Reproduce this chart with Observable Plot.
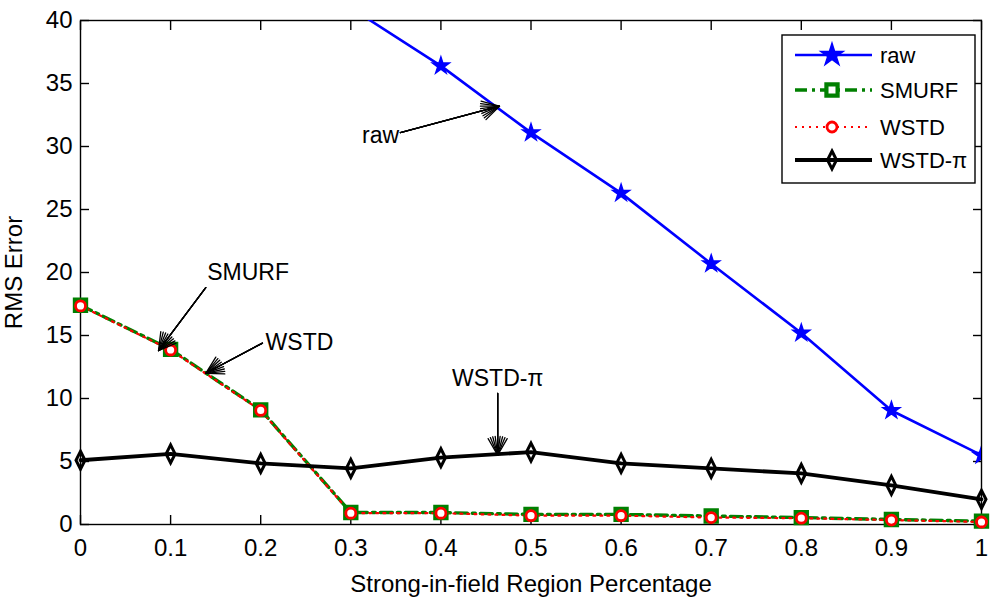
<!DOCTYPE html>
<html>
<head>
<meta charset="utf-8">
<script src="https://cdn.jsdelivr.net/npm/d3@7"></script>
<script src="https://cdn.jsdelivr.net/npm/@observablehq/plot@0.6"></script>
<style>
  body { margin: 0; background: #fff; font-family: "Liberation Sans", Arial, sans-serif; }
  #wrap { position: relative; width: 1000px; height: 603px; }
  #legend { position: absolute; left: 781px; top: 34px; }
</style>
</head>
<body>
<div id="wrap"><div id="chart"></div><div id="legend"></div></div>
<script>
// values
const xs = [0, 0.1, 0.2, 0.3, 0.4, 0.5, 0.6, 0.7, 0.8, 0.9, 1];
const rawX = [0.3, 0.4, 0.5, 0.6, 0.7, 0.8, 0.9, 1];
const rawY = [41.0, 36.4, 31.1, 26.3, 20.7, 15.2, 9.05, 5.5];
const smurfY = [17.4, 13.9, 9.1, 0.95, 0.95, 0.8, 0.8, 0.67, 0.55, 0.4, 0.27];
const wstdY = [17.35, 13.85, 9.05, 0.9, 0.9, 0.7, 0.7, 0.55, 0.5, 0.35, 0.2];
const wstdPiY = [5.1, 5.6, 4.85, 4.45, 5.3, 5.75, 4.85, 4.45, 4.05, 3.1, 2.0];
const xTicks = [0, 0.1, 0.2, 0.3, 0.4, 0.5, 0.6, 0.7, 0.8, 0.9, 1];
const yTicks = [0, 5, 10, 15, 20, 25, 30, 35, 40];
const seriesNames = ["raw", "SMURF", "WSTD", "WSTD-\u03c0"];

// annotation text and arrows (data coordinates)
const notes = [
  {text: "raw", x: 0.333, y: 30.9},
  {text: "SMURF", x: 0.186, y: 20.0},
  {text: "WSTD", x: 0.243, y: 14.4},
  {text: "WSTD-\u03c0", x: 0.463, y: 11.6}
];
const arrows = [
  {x1: 0.355, y1: 31.1, x2: 0.465, y2: 33.2},
  {x1: 0.139, y1: 18.8, x2: 0.0866, y2: 13.8},
  {x1: 0.202, y1: 14.4, x2: 0.139, y2: 12.0},
  {x1: 0.463, y1: 10.4, x2: 0.463, y2: 5.5}
];

const rows = (xv, yv) => xv.map((x, i) => ({x, y: yv[i]}));
const raw = rows(rawX, rawY);
const smurf = rows(xs, smurfY);
const wstd = rows(xs, wstdY);
const wstdPi = rows(xs, wstdPiY);

// tall narrow diamond like the matlab one in the picture
const tallDiamond = {
  draw(ctx) {
    ctx.moveTo(0, -9); ctx.lineTo(4.5, 0); ctx.lineTo(0, 9); ctx.lineTo(-4.5, 0); ctx.closePath();
  }
};

const BLUE = "#0000ff", GREEN = "#008000", RED = "#ff0000";
const FONT = '"Liberation Sans", Arial, sans-serif';
const arrowOpts = {x1: "x1", y1: "y1", x2: "x2", y2: "y2", stroke: "black", strokeWidth: 1.3, headLength: 22};

let chart = Plot.plot({
  width: 1000,
  height: 603,
  marginLeft: 80,
  marginRight: 19,
  marginTop: 20,
  marginBottom: 79,
  x: {domain: [0, 1]},
  y: {domain: [0, 40]},
  style: {fontFamily: FONT, fontSize: "23px", background: "white", color: "black"},
  marks: [
    Plot.frame({stroke: "black", strokeWidth: 1.4}),
    // inward ticks on all four sides
    Plot.axisX({ticks: xTicks, anchor: "bottom", tickSize: -9, tickFormat: () => "", label: null, strokeWidth: 1.4}),
    Plot.axisX({ticks: xTicks, anchor: "top", tickSize: -9, tickFormat: () => "", label: null, strokeWidth: 1.4}),
    Plot.axisY({ticks: yTicks, anchor: "left", tickSize: -9, tickFormat: () => "", label: null, strokeWidth: 1.4}),
    Plot.axisY({ticks: yTicks, anchor: "right", tickSize: -9, tickFormat: () => "", label: null, strokeWidth: 1.4}),
    Plot.axisX({ticks: xTicks, anchor: "bottom", tickSize: 0, tickPadding: 14, tickFormat: d => String(d),
      fontSize: 24, label: "Strong-in-field Region Percentage", labelAnchor: "center", labelOffset: 67, labelArrow: "none"}),
    Plot.axisY({ticks: yTicks, anchor: "left", tickSize: 0, tickPadding: 8, fontSize: 24,
      label: "RMS Error", labelAnchor: "center", labelOffset: 76, labelArrow: "none"}),

    Plot.line(raw, {x: "x", y: "y", stroke: BLUE, strokeWidth: 2.6, clip: true}),
    Plot.line(smurf, {x: "x", y: "y", stroke: GREEN, strokeWidth: 3.4, strokeDasharray: "12,5,3,5"}),
    Plot.line(wstd, {x: "x", y: "y", stroke: RED, strokeWidth: 2.2, strokeDasharray: "2,5"}),
    Plot.line(wstdPi, {x: "x", y: "y", stroke: "black", strokeWidth: 3.8}),

    Plot.dot(raw, {x: "x", y: "y", symbol: "star", r: 5.3, fill: BLUE, stroke: BLUE, strokeWidth: 1.5, clip: true}),
    Plot.dot(smurf, {x: "x", y: "y", symbol: "square", r: 6.3, fill: "none", stroke: GREEN, strokeWidth: 4.2}),
    Plot.dot(wstd, {x: "x", y: "y", symbol: "circle", r: 5, fill: "white", stroke: RED, strokeWidth: 2.8}),
    Plot.dot(wstdPi, {x: "x", y: "y", symbol: tallDiamond, fill: "none", stroke: "black", strokeWidth: 3}),

    Plot.text(notes, {x: "x", y: "y", text: "text", fontSize: 23, textAnchor: "middle", lineAnchor: "middle", fill: "black"}),
    Plot.arrow(arrows, {...arrowOpts, headAngle: 60}),
    Plot.arrow(arrows, {...arrowOpts, headAngle: 45}),
    Plot.arrow(arrows, {...arrowOpts, headAngle: 30}),
    Plot.arrow(arrows, {...arrowOpts, headAngle: 15})
  ]
});
d3.select("#chart").append(() => chart);

// legend box in the upper right corner
const lg = d3.select("#legend").append("svg").attr("width", 196).attr("height", 152);
lg.append("rect").attr("x", 1).attr("y", 1).attr("width", 193).attr("height", 148)
  .attr("fill", "white").attr("stroke", "black").attr("stroke-width", 1.4);
const legendStyle = [
  {stroke: BLUE, width: 2.6, dash: null, sym: d3.symbolStar, size: Math.PI * 49, fill: BLUE, sw: 1.5},
  {stroke: GREEN, width: 3.4, dash: "12,5,3,5", sym: d3.symbolSquare, size: Math.PI * 6.3 * 6.3, fill: "white", sw: 4.2},
  {stroke: RED, width: 2.2, dash: "2,5", sym: d3.symbolCircle, size: Math.PI * 25, fill: "white", sw: 2.8},
  {stroke: "black", width: 3.8, dash: null, sym: tallDiamond, size: 64, fill: "none", sw: 3}
];
const rowY = [21, 56, 93, 126];
seriesNames.forEach((name, i) => {
  const s = legendStyle[i];
  const g = lg.append("g").attr("transform", `translate(0,${rowY[i]})`);
  g.append("line").attr("x1", 14).attr("x2", 91).attr("y1", 0).attr("y2", 0)
    .attr("stroke", s.stroke).attr("stroke-width", s.width).attr("stroke-dasharray", s.dash);
  g.append("path").attr("transform", "translate(51,0)").attr("d", d3.symbol(s.sym, s.size)())
    .attr("fill", s.fill).attr("stroke", s.stroke).attr("stroke-width", s.sw);
  g.append("text").attr("x", 99).attr("y", 8).attr("font-size", 22)
    .attr("font-family", FONT).text(name);
});
</script>
</body>
</html>
